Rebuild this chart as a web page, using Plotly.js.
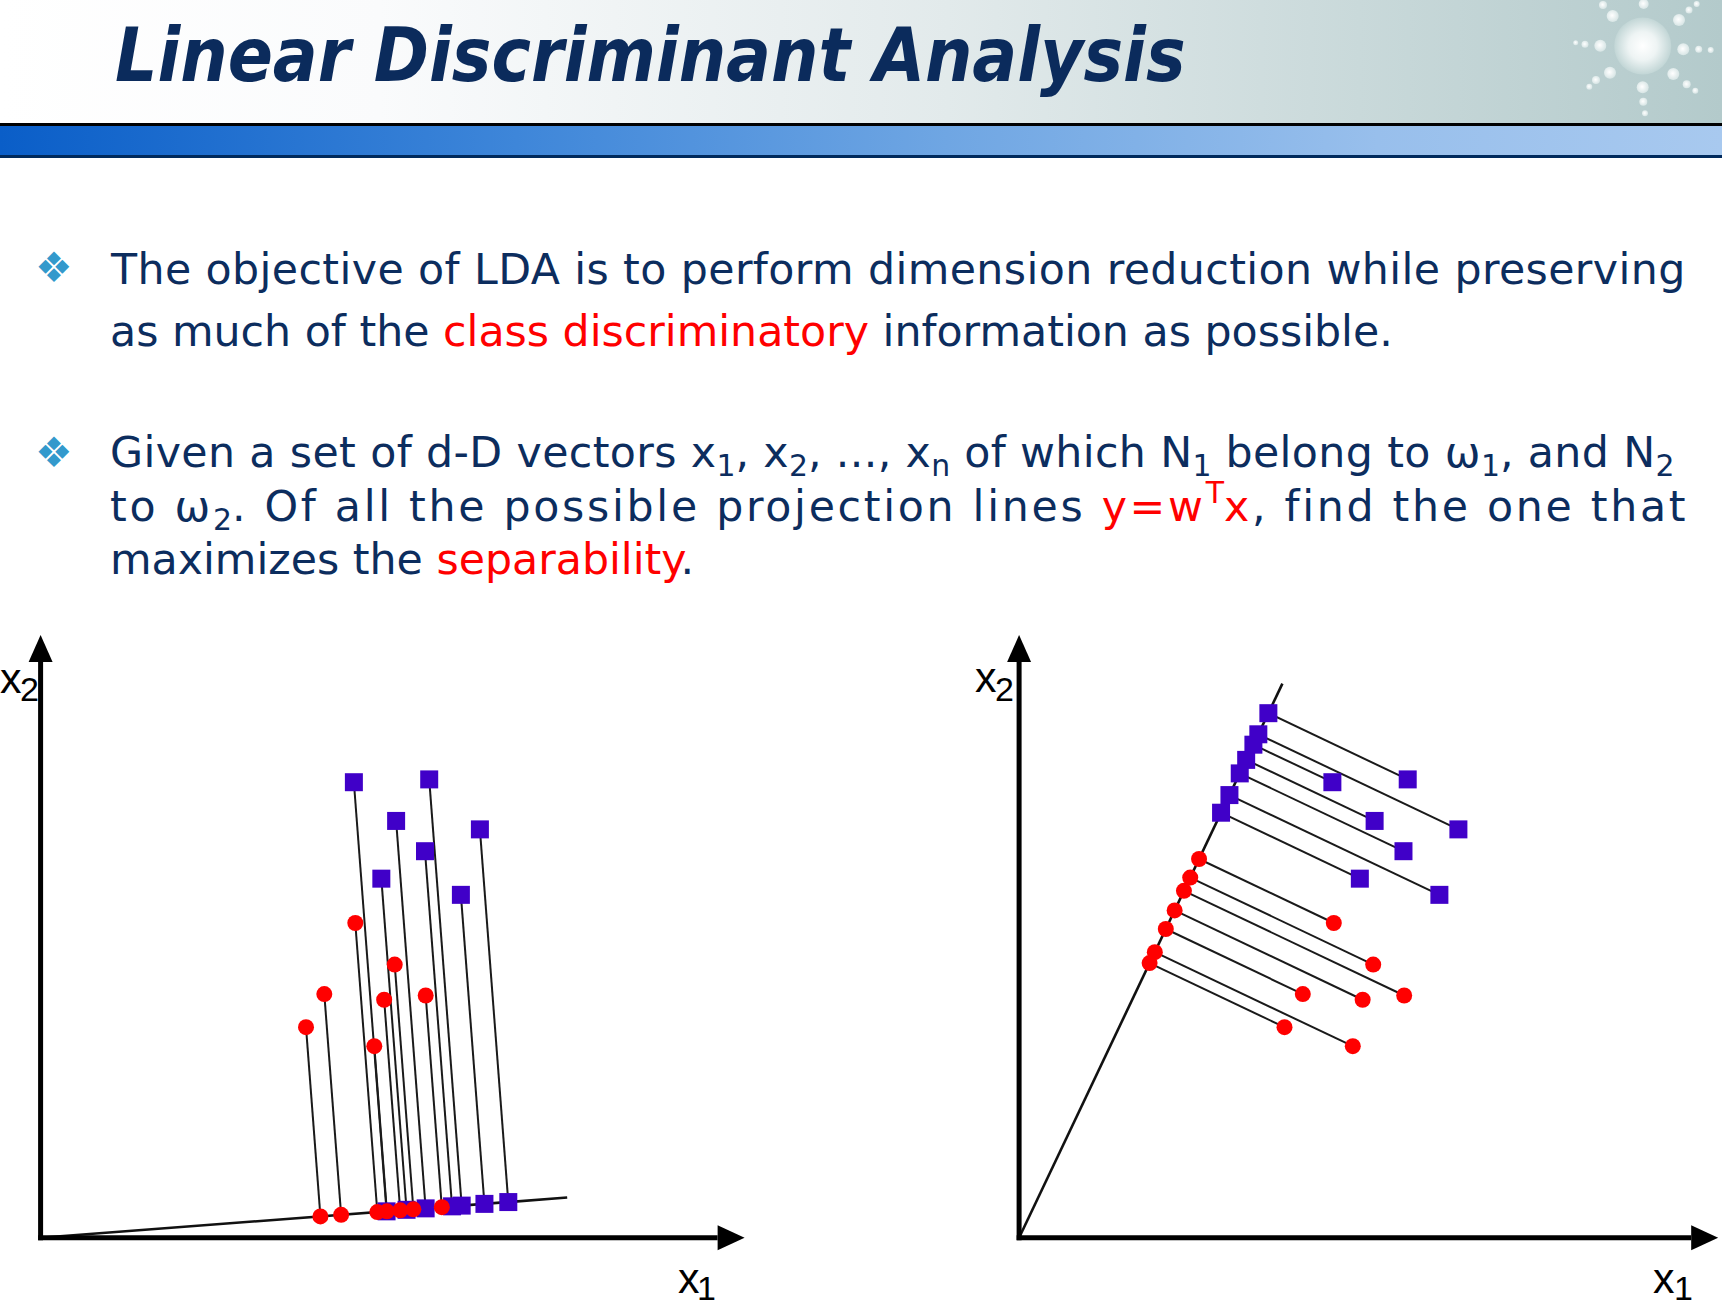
<!DOCTYPE html>
<html><head><meta charset="utf-8">
<script src="https://cdn.plot.ly/plotly-3.0.1.min.js"></script>
<style>html,body{margin:0;padding:0;background:#fff;overflow:hidden}#chart{width:1722px;height:1312px}</style>
</head><body><div id="chart"></div>
<script>
// ---------------- data ----------------
// class ω1 (red circles) in (x1, x2) units
const class1X1 = [4.47, 4.03, 3.77, 5.03, 4.88, 5.47, 4.74];
const class1X2 = [4.47, 3.46, 2.99, 3.88, 3.38, 3.44, 2.72];
// class ω2 (blue squares)
const class2X1 = [4.45, 5.52, 5.05, 6.24, 5.46, 4.84, 5.97];
const class2X2 = [6.47, 6.51, 5.92, 5.80, 5.49, 5.10, 4.87];
// end points of the two projection lines y = wᵀx (left: poor, right: LDA)
const wLeftEnd = [7.48, 0.57];
const wRightEnd = [3.74, 7.87];
// axis extents (x1 tip, x2 tip) for each panel
const axisLeft = [10.0, 8.56];
const axisRight = [9.93, 8.56];

const titleText = 'Linear Discriminant Analysis';
function spaced(str, s) {
  return str.split(/(<sub>.*?<\/sub>|<sup>.*?<\/sup>)/).filter(p => p.length)
    .map(p => p.startsWith('<') ? p : `<span style="letter-spacing:${s}px">${p}</span>`).join('');
}
const bullet1 = [
  spaced('The objective of LDA is to perform dimension reduction while preserving', 0.4),
  'as much of the <span style="color:#ff0000">class discriminatory</span> information as possible.'
];
const bullet2 = [
  spaced('Given a set of d-D vectors x<sub>1</sub>, x<sub>2</sub>, ..., x<sub>n</sub> of which N<sub>1</sub> belong to ω<sub>1</sub>, and N<sub>2</sub>', 0.38),
  '<span style="letter-spacing:2.7px">to ω</span><sub>2</sub><span style="letter-spacing:2.7px">. Of all the possible projection lines </span><span style="color:#ff0000;letter-spacing:2.7px">y=w</span><sup><span style="color:#ff0000">T</span></sup><span style="color:#ff0000;letter-spacing:2.7px">x</span><span style="letter-spacing:2.7px">, find the one that</span>',
  'maximizes the <span style="color:#ff0000">separability</span>.'
];

// ---------------- layout geometry ----------------
const W = 1722, H = 1312;
const UNIT = 70.4;             // px per data unit
const ORIGIN_Y = 1237.7;       // px from top
const LEFT_OX = 40.6, RIGHT_OX = 1019.1, SPLIT = 861;
const px = x => x / W, py = y => 1 - y / H;

const NAVY = '#0c2d5e', SQ = '#4000c8', RED = '#ff0000';

function project(xs, ys, w) {
  const ww = w[0]*w[0] + w[1]*w[1];
  return xs.map((x, i) => { const t = (x*w[0] + ys[i]*w[1]) / ww; return [t*w[0], t*w[1]]; });
}

const traces = [];
const shapes = [];
function panel(xa, ya, w, ax) {
  const p1 = project(class1X1, class1X2, w);
  const p2 = project(class2X1, class2X2, w);
  const cx = [], cy = [];
  class2X1.forEach((x, i) => { cx.push(x, p2[i][0], null); cy.push(class2X2[i], p2[i][1], null); });
  class1X1.forEach((x, i) => { cx.push(x, p1[i][0], null); cy.push(class1X2[i], p1[i][1], null); });
  traces.push({x: cx, y: cy, xaxis: xa, yaxis: ya, mode: 'lines', line: {color: '#1a1a1a', width: 2}, hoverinfo: 'skip'});
  traces.push({x: [0, w[0]], y: [0, w[1]], xaxis: xa, yaxis: ya, mode: 'lines', line: {color: '#111', width: 2.6}, hoverinfo: 'skip'});
  traces.push({x: p2.map(p => p[0]), y: p2.map(p => p[1]), xaxis: xa, yaxis: ya, mode: 'markers',
    marker: {symbol: 'square', size: 18, color: SQ, line: {width: 0}}});
  traces.push({x: p1.map(p => p[0]), y: p1.map(p => p[1]), xaxis: xa, yaxis: ya, mode: 'markers',
    marker: {symbol: 'circle', size: 16, color: RED, line: {width: 0}}});
  traces.push({x: class2X1, y: class2X2, xaxis: xa, yaxis: ya, mode: 'markers',
    marker: {symbol: 'square', size: 18, color: SQ, line: {width: 0}}});
  traces.push({x: class1X1, y: class1X2, xaxis: xa, yaxis: ya, mode: 'markers',
    marker: {symbol: 'circle', size: 16, color: RED, line: {width: 0}}});
  const head = 27 / UNIT;
  shapes.push({type: 'line', xref: xa, yref: ya, x0: -0.035, y0: 0, x1: ax[0] - head, y1: 0, line: {color: '#000', width: 5}});
  shapes.push({type: 'line', xref: xa, yref: ya, x0: 0, y0: -0.035, x1: 0, y1: ax[1] - head, line: {color: '#000', width: 5}});
  shapes.push({type: 'path', xref: xa, yref: ya, xsizemode: 'pixel', ysizemode: 'pixel', xanchor: ax[0], yanchor: 0,
    path: 'M0,0 L-27,12.5 L-27,-12.5 Z', fillcolor: '#000', line: {width: 0}});
  shapes.push({type: 'path', xref: xa, yref: ya, xsizemode: 'pixel', ysizemode: 'pixel', xanchor: 0, yanchor: ax[1],
    path: 'M0,0 L-12,-27 L12,-27 Z', fillcolor: '#000', line: {width: 0}});
}
panel('x', 'y', wLeftEnd, axisLeft);
panel('x2', 'y2', wRightEnd, axisRight);

const yr = [-(H - ORIGIN_Y) / UNIT, ORIGIN_Y / UNIT];
const hidden = {visible: false, showgrid: false, zeroline: false, fixedrange: true};

// ---------------- header decoration (SVG) ----------------
const dots = [[1603,5,4],[1643.7,4,5],[1612.7,16,6],[1679,20,6],[1689,10,3.5],[1696.7,4,3],[1600.3,45.7,6],[1585,44.3,3.5],
  [1575.7,42.7,2.5],[1683.3,49.3,6],[1698.7,49.3,3.5],[1710.7,50,3],[1610,72.7,6],[1596,80,4],[1589.3,86.7,3],[1673.3,74,6],
  [1686.7,84.3,4],[1695.3,90.7,3],[1642.7,87.3,6],[1643.3,101.7,4],[1645,113.3,3]];
const svg = `<svg xmlns="http://www.w3.org/2000/svg" width="1722" height="160" viewBox="0 0 1722 160">
<defs>
<linearGradient id="hg" x1="0" x2="1" y1="0" y2="0"><stop offset="0" stop-color="#ffffff"/><stop offset="0.22" stop-color="#fafbfc"/><stop offset="0.55" stop-color="#e2eaeb"/><stop offset="1" stop-color="#b3cacb"/></linearGradient>
<linearGradient id="bg" x1="0" x2="1" y1="0" y2="0"><stop offset="0" stop-color="#0a5ec8"/><stop offset="0.3" stop-color="#3e86d9"/><stop offset="0.55" stop-color="#6fa6e3"/><stop offset="0.8" stop-color="#98bfec"/><stop offset="1" stop-color="#a8c9ef"/></linearGradient>
<radialGradient id="sg" cx="0.5" cy="0.5" r="0.5"><stop offset="0" stop-color="#ffffff"/><stop offset="0.5" stop-color="#eef4f4"/><stop offset="1" stop-color="#c2d6d6"/></radialGradient>
<radialGradient id="dg" cx="0.45" cy="0.45" r="0.6"><stop offset="0" stop-color="#ffffff"/><stop offset="1" stop-color="#d4e3e3"/></radialGradient>
</defs>
<rect x="0" y="0" width="1722" height="123" fill="url(#hg)"/>
<circle cx="1642.7" cy="46" r="28.5" fill="url(#sg)"/>
${dots.map(d => `<circle cx="${d[0]}" cy="${d[1]}" r="${d[2]}" fill="url(#dg)"/>`).join('')}
<rect x="0" y="123" width="1722" height="3" fill="#000"/>
<rect x="0" y="126" width="1722" height="29" fill="url(#bg)"/>
<rect x="0" y="155" width="1722" height="3" fill="#002a5c"/>
</svg>`;
const svgURI = 'data:image/svg+xml;charset=utf-8,' + encodeURIComponent(svg);

// ---------------- text ----------------
const annotations = [];
const bodyFont = {family: 'DejaVu Sans, Verdana, sans-serif', size: 42.7, color: NAVY};
function txt(text, x, y, font, xanchor) {
  annotations.push({text, x: px(x), y: py(y), xref: 'paper', yref: 'paper', xanchor: xanchor || 'left', yanchor: 'middle',
    showarrow: false, font, align: 'left'});
}
txt('<b><i>' + titleText + '</i></b>', 113, 55,
  {family: 'Liberation Sans Narrow, DejaVu Sans Condensed, sans-serif', size: 74, color: '#0b2b5c', weight: 'bold', style: 'italic'});
const bulletFont = {family: 'DejaVu Sans, sans-serif', size: 42, color: '#3399cc'};
txt('❖', 54, 268, bulletFont, 'center');
txt('❖', 54, 452.6, bulletFont, 'center');
[269, 330.6].forEach((y, i) => txt(bullet1[i], 107.6, y, bodyFont));
[455, 506.3, 559].forEach((y, i) => txt(bullet2[i], 107.6, y, bodyFont));

const axFont = {family: 'Liberation Sans, Arial, sans-serif', size: 43, color: '#000'};
const subFont = {family: 'Liberation Sans, Arial, sans-serif', size: 34, color: '#000'};
// axis labels: [x, y of "x", x, y of subscript, subscript]
const axisLabelText = [['x', '2'], ['x', '1']];
const labelPos = [
  [11, 678, 29, 689, 0], [985.6, 677, 1004.7, 689, 0],
  [688.8, 1277.5, 706.4, 1288, 1], [1664.4, 1277.5, 1683, 1288, 1]
];
labelPos.forEach(p => {
  txt(axisLabelText[p[4]][0], p[0], p[1], axFont, 'center');
  txt(axisLabelText[p[4]][1], p[2], p[3], subFont, 'center');
});

const layout = {
  width: W, height: H, margin: {l: 0, r: 0, t: 0, b: 0, pad: 0},
  paper_bgcolor: '#ffffff', plot_bgcolor: 'rgba(0,0,0,0)', showlegend: false,
  xaxis: Object.assign({domain: [0, SPLIT / W], range: [-LEFT_OX / UNIT, (SPLIT - LEFT_OX) / UNIT]}, hidden),
  yaxis: Object.assign({domain: [0, 1], range: yr}, hidden),
  xaxis2: Object.assign({domain: [SPLIT / W, 1], range: [(SPLIT - RIGHT_OX) / UNIT, (W - RIGHT_OX) / UNIT], anchor: 'y2'}, hidden),
  yaxis2: Object.assign({domain: [0, 1], range: yr, anchor: 'x2'}, hidden),
  shapes, annotations,
  images: [{source: svgURI, xref: 'paper', yref: 'paper', x: 0, y: 1, sizex: 1, sizey: 160 / H,
    xanchor: 'left', yanchor: 'top', sizing: 'stretch', layer: 'below'}]
};
Plotly.newPlot('chart', traces, layout, {staticPlot: true, displayModeBar: false});
</script></body></html>
